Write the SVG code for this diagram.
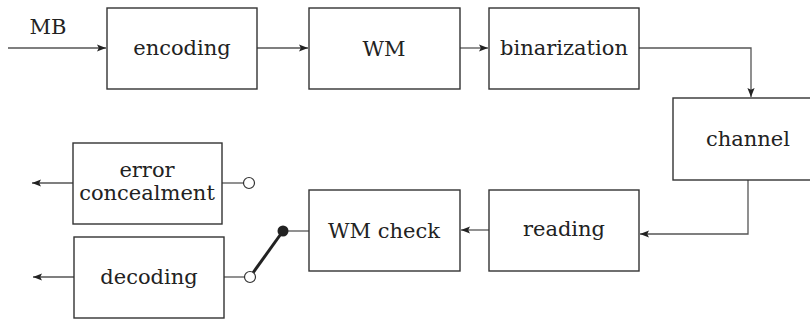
<svg xmlns="http://www.w3.org/2000/svg" width="810" height="320" viewBox="0 0 810 320">
  <defs>
    <style>
      .box { fill: #fff; stroke: #333; stroke-width: 1.4; }
      .lbl { font-family: "DejaVu Serif", "Liberation Serif", serif; font-size: 21px; fill: #222; text-anchor: middle; }
      .wire { fill: none; stroke: #555; stroke-width: 1.3; }
      .open { fill: #fff; stroke: #333; stroke-width: 1.2; }
    </style>
    <marker id="arrow" viewBox="0 0 10 10" refX="10" refY="5" markerWidth="13" markerHeight="9" markerUnits="userSpaceOnUse" orient="auto">
      <path d="M0,1 L10,5 L0,9 L2,5 Z" fill="#222"/>
    </marker>
  </defs>

  <rect width="810" height="320" fill="#fff"/>

  <!-- connectors -->
  <g id="connectors">
    <path class="wire" d="M8,48 H106" marker-end="url(#arrow)"/>
    <path class="wire" d="M257,48 H308" marker-end="url(#arrow)"/>
    <path class="wire" d="M460,48 H488" marker-end="url(#arrow)"/>
    <path class="wire" d="M639,48 H751 V97" marker-end="url(#arrow)"/>
    <path class="wire" d="M748,180 V234 H640" marker-end="url(#arrow)"/>
    <path class="wire" d="M489,230 H461" marker-end="url(#arrow)"/>
    <path class="wire" d="M309,231 H283"/>
    <path d="M283,231 L250,277" stroke="#222" stroke-width="3" fill="none"/>
    <path class="wire" d="M224,277 H245"/>
    <path class="wire" d="M222,183 H244"/>
    <path class="wire" d="M74,277 H33" marker-end="url(#arrow)"/>
    <path class="wire" d="M73,183 H32" marker-end="url(#arrow)"/>
    <circle cx="283" cy="231" r="5.5" fill="#222"/>
    <circle class="open" cx="250" cy="277" r="5.5"/>
    <circle class="open" cx="249" cy="183" r="5.5"/>
    <text class="lbl" x="48" y="34">MB</text>
  </g>

  <g id="encoding">
    <rect class="box" x="107" y="8" width="150" height="81"/>
    <text class="lbl" x="182" y="55">encoding</text>
  </g>
  <g id="wm">
    <rect class="box" x="309" y="8" width="151" height="81"/>
    <text class="lbl" x="384" y="56">WM</text>
  </g>
  <g id="binarization">
    <rect class="box" x="489" y="8" width="150" height="81"/>
    <text class="lbl" x="564" y="55">binarization</text>
  </g>
  <g id="channel">
    <rect class="box" x="673" y="98" width="150" height="82"/>
    <text class="lbl" x="748" y="146">channel</text>
  </g>
  <g id="reading">
    <rect class="box" x="489" y="190" width="150" height="81"/>
    <text class="lbl" x="564" y="236">reading</text>
  </g>
  <g id="wm-check">
    <rect class="box" x="309" y="190" width="151" height="81"/>
    <text class="lbl" x="384" y="238">WM check</text>
  </g>
  <g id="error-concealment">
    <rect class="box" x="73" y="143" width="149" height="81"/>
    <text class="lbl" x="147" y="177">error</text>
    <text class="lbl" x="147" y="200">concealment</text>
  </g>
  <g id="decoding">
    <rect class="box" x="74" y="237" width="150" height="81"/>
    <text class="lbl" x="149" y="284">decoding</text>
  </g>
</svg>
